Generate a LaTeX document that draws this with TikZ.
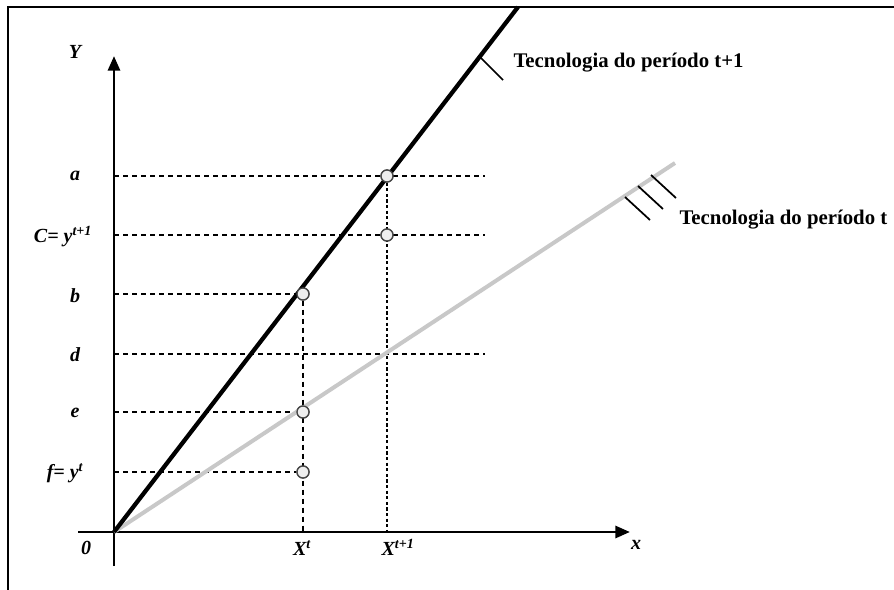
\documentclass[tikz,border=0pt]{standalone}
\usepackage{fontspec}
\setmainfont{Liberation Serif}
\usetikzlibrary{arrows.meta,positioning}
\definecolor{techgray}{RGB}{200,200,200}
\definecolor{knotdraw}{RGB}{70,70,70}
\definecolor{knotfill}{RGB}{238,238,238}
\tikzset{every picture/.style={line width=0.75pt}}
\tikzset{
  guide/.style={line width=1.3pt, dash pattern={on 3.75pt off 3pt}},
  dotguide/.style={line width=1.6pt, dash pattern={on 2.4pt off 1.8pt}},
  knot/.style={circle, draw=knotdraw, fill=knotfill, line width=1pt, minimum size=9pt, inner sep=0pt},
  axislbl/.style={font=\fontsize{15}{15}\selectfont\bfseries\itshape, inner sep=0.75pt},
  techlbl/.style={font=\fontsize{15.6}{15.6}\selectfont\bfseries, anchor=west, inner sep=0.75pt},
}

\begin{document}
\begin{tikzpicture}[x=0.75pt,y=0.75pt,yscale=-1,xscale=1]
\useasboundingbox (0,0) rectangle (894,590);

%Frame
\draw [line width=1.2pt] (8,590) -- (8,7) -- (894,7) ;

%Axis points
\coordinate (O) at (114,532);
\coordinate (Ytop) at (114,56);
\coordinate (Ybot) at (114,566);
\coordinate (Xleft) at (78,532);
\coordinate (Xright) at (630,532);
%Levels on y axis
\coordinate (ya) at (114,176);
\coordinate (yc) at (114,235);
\coordinate (yb) at (114,294);
\coordinate (yd) at (114,354);
\coordinate (ye) at (114,412);
\coordinate (yf) at (114,472);
%Right ends of long guides
\coordinate (ea) at (485,176);
\coordinate (ec) at (485,235);
\coordinate (ed) at (485,354);
%Feet on x axis
\coordinate (xt) at (303,532);
\coordinate (xt1) at (387,532);
%Ends of technology lines
\coordinate (T1) at (518,7);
\coordinate (T0) at (675,163);

%Knots
\node [knot] (ka) at (387,176) {};
\node [knot] (kc) at (387,235) {};
\node [knot] (kb) at (303,294) {};
\node [knot] (ke) at (303,412) {};
\node [knot] (kf) at (303,472) {};

%Guides
\draw [guide] (ya) -- (ea) ;
\draw [guide] (yc) -- (ec) ;
\draw [guide] (yb) -- (kb) ;
\draw [guide] (yd) -- (ed) ;
\draw [guide] (ye) -- (ke) ;
\draw [guide] (yf) -- (kf) ;
\draw [guide] (kb) -- (xt) ;
\draw [dotguide] (ka) -- (xt1) ;

%Axes
\draw [line width=2.2pt, -{Triangle[length=11pt,width=9pt]}] (Ybot) -- (Ytop) ;
\draw [line width=2.2pt, -{Triangle[length=11pt,width=9pt]}] (Xleft) -- (Xright) ;

%Technology lines
\draw [color=techgray, line width=3pt] (O) -- (T0) ;
\draw [line width=3.2pt] (O) -- (T1) ;

%Hatches
\draw [line width=1.3pt] (480,57) -- ++(23,23) ;
\draw [line width=1.3pt] (625,197) -- ++(25,23) ;
\draw [line width=1.3pt] (638,186) -- ++(25,23) ;
\draw [line width=1.3pt] (651,175) -- ++(25,23) ;

%Knots on top
\foreach \k in {ka,kc,kb,ke,kf} {
  \node [knot] at (\k) {};
}

% Text Node
\node [axislbl] (lY) at (75,52) {Y};
\node [axislbl] (la) at (75,176) {a};
\node [axislbl] (lc) at (63,237) {C= y\textsuperscript{t+1}};
\node [axislbl] (lb) at (75,296) {b};
\node [axislbl] (ld) at (75,355) {d};
\node [axislbl] (le) at (75,413) {e};
\node [axislbl] (lf) at (65,473) {f= y\textsuperscript{t}};
\node [axislbl] (l0) at (86,548) {0};
\node [axislbl] (lxt) at (302,548) {X\textsuperscript{t}};
\node [axislbl] (lxt1) at (398,547) {X\textsuperscript{t+1}};
\node [axislbl] (lx) at (636,545) {x};
\node [techlbl] (tech1) at (512,63) {Tecnologia do período t+1};
\node [techlbl] (tech0) at (678,220) {Tecnologia do período t};
\end{tikzpicture}
\end{document}
